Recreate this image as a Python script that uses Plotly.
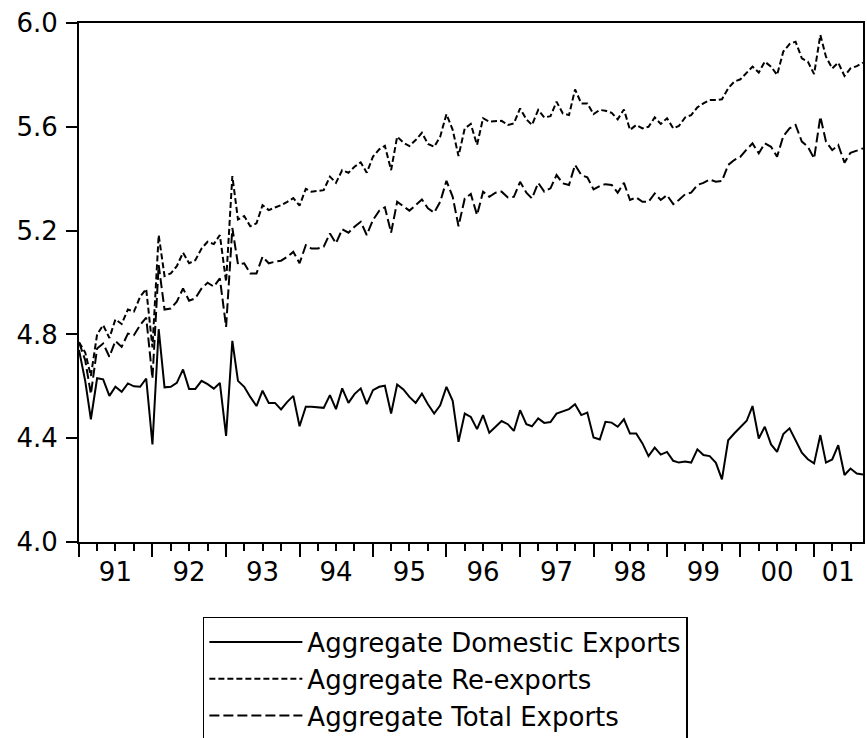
import pandas as pd
import plotly.graph_objects as go

# Monthly observations, 1991:01 - 2001:09
months = pd.date_range("1991-01-01", periods=129, freq="MS")

domestic = [
    4.74, 4.62, 4.473, 4.631, 4.627, 4.563, 4.598, 4.579, 4.611, 4.600, 4.598, 4.630,
    4.376, 4.820, 4.596, 4.598, 4.613, 4.665, 4.590, 4.590, 4.621, 4.608, 4.591, 4.613,
    4.409, 4.775, 4.621, 4.598, 4.559, 4.524, 4.583, 4.536, 4.536, 4.511, 4.540, 4.563,
    4.446, 4.521, 4.521, 4.518, 4.517, 4.566, 4.512, 4.592, 4.536, 4.570, 4.592, 4.531,
    4.585, 4.598, 4.602, 4.495, 4.607, 4.588, 4.559, 4.536, 4.572, 4.531, 4.495, 4.527,
    4.598, 4.544, 4.386, 4.495, 4.482, 4.435, 4.489, 4.421, 4.444, 4.466, 4.454, 4.428,
    4.508, 4.454, 4.446, 4.476, 4.459, 4.462, 4.495, 4.505, 4.512, 4.531, 4.489, 4.499,
    4.403, 4.395, 4.463, 4.460, 4.444, 4.473, 4.418, 4.418, 4.380, 4.331, 4.364, 4.337,
    4.347, 4.313, 4.306, 4.310, 4.306, 4.357, 4.335, 4.331, 4.305, 4.241, 4.392, 4.418,
    4.444, 4.467, 4.524, 4.399, 4.444, 4.376, 4.347, 4.416, 4.438, 4.392, 4.344, 4.319,
    4.303, 4.412, 4.306, 4.318, 4.373, 4.258, 4.283, 4.264, 4.260,
]

re_exports = [
    4.77, 4.73, 4.64, 4.80, 4.836, 4.786, 4.858, 4.840, 4.896, 4.888, 4.945, 4.975,
    4.75, 5.183, 5.025, 5.035, 5.063, 5.115, 5.074, 5.086, 5.131, 5.157, 5.148, 5.183,
    5.003, 5.410, 5.243, 5.256, 5.217, 5.228, 5.298, 5.279, 5.289, 5.298, 5.311, 5.325,
    5.296, 5.361, 5.350, 5.354, 5.356, 5.408, 5.384, 5.433, 5.423, 5.446, 5.463, 5.423,
    5.485, 5.513, 5.527, 5.433, 5.562, 5.539, 5.526, 5.549, 5.577, 5.534, 5.523, 5.562,
    5.649, 5.588, 5.487, 5.594, 5.611, 5.530, 5.633, 5.620, 5.623, 5.623, 5.607, 5.613,
    5.671, 5.629, 5.607, 5.665, 5.636, 5.641, 5.697, 5.652, 5.645, 5.744, 5.690, 5.690,
    5.649, 5.665, 5.662, 5.654, 5.629, 5.667, 5.588, 5.607, 5.594, 5.600, 5.636, 5.611,
    5.633, 5.594, 5.603, 5.636, 5.645, 5.675, 5.690, 5.703, 5.703, 5.706, 5.748, 5.774,
    5.783, 5.809, 5.832, 5.809, 5.851, 5.832, 5.800, 5.890, 5.919, 5.928, 5.864, 5.851,
    5.803, 5.954, 5.870, 5.825, 5.847, 5.796, 5.825, 5.834, 5.847,
]

total = [
    4.77, 4.70, 4.57, 4.746, 4.765, 4.714, 4.775, 4.752, 4.803, 4.797, 4.836, 4.865,
    4.63, 5.067, 4.896, 4.900, 4.926, 4.977, 4.930, 4.939, 4.977, 4.999, 4.984, 5.016,
    4.829, 5.21, 5.070, 5.074, 5.035, 5.035, 5.099, 5.074, 5.080, 5.084, 5.099, 5.118,
    5.074, 5.144, 5.131, 5.131, 5.138, 5.189, 5.151, 5.205, 5.192, 5.215, 5.234, 5.183,
    5.241, 5.277, 5.290, 5.192, 5.311, 5.292, 5.277, 5.298, 5.320, 5.286, 5.269, 5.311,
    5.392, 5.330, 5.217, 5.324, 5.341, 5.260, 5.350, 5.330, 5.346, 5.350, 5.328, 5.330,
    5.388, 5.346, 5.324, 5.384, 5.350, 5.363, 5.414, 5.382, 5.376, 5.453, 5.414, 5.405,
    5.359, 5.372, 5.379, 5.376, 5.346, 5.384, 5.318, 5.328, 5.311, 5.311, 5.343, 5.318,
    5.337, 5.302, 5.318, 5.340, 5.346, 5.376, 5.384, 5.397, 5.388, 5.391, 5.453, 5.472,
    5.485, 5.513, 5.536, 5.498, 5.536, 5.523, 5.485, 5.564, 5.594, 5.607, 5.543, 5.523,
    5.478, 5.639, 5.543, 5.510, 5.530, 5.462, 5.500, 5.508, 5.517,
]

series_names = ["Aggregate Domestic Exports", "Aggregate Re-exports", "Aggregate Total Exports"]

year_starts = ["%d-01-01" % y for y in range(1991, 2002)]
label_pos = ["%d-07-01" % y for y in range(1991, 2001)] + ["2001-05-01"]
year_labels = ["91", "92", "93", "94", "95", "96", "97", "98", "99", "00", "01"]
y_ticks = [4.0, 4.4, 4.8, 5.2, 5.6, 6.0]

FONT = "DejaVu Sans"

fig = go.Figure()
fig.add_trace(go.Scatter(x=months, y=domestic, mode="lines", name=series_names[0],
                         line=dict(color="black", width=2)))
fig.add_trace(go.Scatter(x=months, y=re_exports, mode="lines", name=series_names[1],
                         line=dict(color="black", width=2, dash="6px,3px")))
fig.add_trace(go.Scatter(x=months, y=total, mode="lines", name=series_names[2],
                         line=dict(color="black", width=2, dash="10px,4px")))
# invisible carrier so the label axis (x2) is drawn
fig.add_trace(go.Scatter(x=months, y=domestic, xaxis="x2", mode="lines",
                         line=dict(color="rgba(0,0,0,0)", width=0),
                         showlegend=False, hoverinfo="skip"))

xr = [months[0], months[-1]]

fig.update_layout(
    width=867, height=738,
    margin=dict(l=79, r=4, t=23, b=196, autoexpand=False),
    paper_bgcolor="white", plot_bgcolor="white",
    font=dict(family=FONT, size=26, color="black"),
    showlegend=True,
    legend=dict(
        x=0.158, y=-0.1445, xanchor="left", yanchor="top",
        bordercolor="black", borderwidth=1.5, bgcolor="white",
        font=dict(family=FONT, size=26, color="black"),
        tracegroupgap=0, itemwidth=93,
    ),
    xaxis=dict(
        type="date", range=xr, automargin=False,
        tickmode="array", tickvals=year_starts, showticklabels=False,
        ticks="outside", ticklen=13, tickwidth=1.5, tickcolor="black",
        minor=dict(dtick="M3", tick0="1991-01-01", ticks="outside", ticklen=7,
                   tickwidth=1.5, tickcolor="black", showgrid=False),
        showline=True, linewidth=2, linecolor="black", mirror=True,
        showgrid=False, zeroline=False,
    ),
    xaxis2=dict(
        type="date", range=xr, overlaying="x", anchor="y", side="bottom",
        automargin=False,
        tickmode="array", tickvals=label_pos, ticktext=year_labels,
        ticks="outside", ticklen=7, tickcolor="rgba(0,0,0,0)",
        showline=False, showgrid=False, zeroline=False,
        tickfont=dict(family=FONT, size=26, color="black"),
    ),
    yaxis=dict(
        range=[4.0, 6.0], tickmode="array", tickvals=y_ticks, tickformat=".1f",
        automargin=False,
        ticks="outside", ticklen=11, tickwidth=1.5, tickcolor="black",
        ticklabelstandoff=3,
        showline=True, linewidth=2, linecolor="black", mirror=True,
        showgrid=False, zeroline=False,
        tickfont=dict(family=FONT, size=26, color="black"),
    ),
)

fig.write_html(
    "out.html",
    config={"displayModeBar": False},
    post_script="document.body.style.margin='0';document.body.style.overflow='hidden';",
)
